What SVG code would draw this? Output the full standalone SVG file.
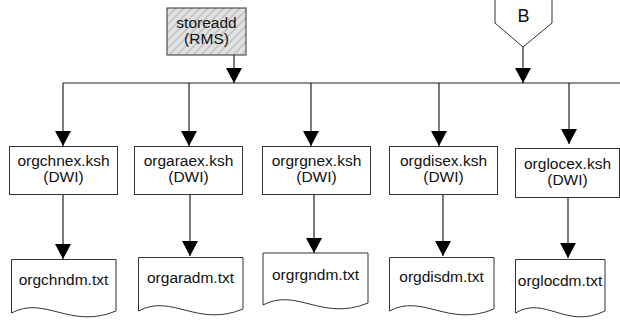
<svg xmlns="http://www.w3.org/2000/svg" width="620" height="320" viewBox="0 0 620 320">
<style>
.bx{fill:#fff;stroke:#333;stroke-width:1}
.ln{fill:none;stroke:#222;stroke-width:1.2}
.t{font-family:"Liberation Sans",Arial,sans-serif;font-size:15.5px;fill:#111;text-anchor:middle}
</style>
<defs>
<pattern id="hatch" width="8" height="8" patternUnits="userSpaceOnUse">
<rect width="8" height="8" fill="#e2e2e2"/>
<path d="M-2,2 L2,-2 M0,8 L8,0 M6,10 L10,6" stroke="#c4c4c4" stroke-width="1.6"/>
</pattern>
<marker id="ah" markerWidth="17" markerHeight="16" refX="15" refY="8" orient="auto" markerUnits="userSpaceOnUse">
<path d="M0,0 L15,8 L0,16 Z" fill="#000"/>
</marker>
</defs>
<g id="connectors">
<path class="ln" d="M63,83 H620"/>
<path class="ln" d="M234,55 V83" marker-end="url(#ah)"/>
<path class="ln" d="M523,47 V83" marker-end="url(#ah)"/>
<path class="ln" d="M63,83 V146" marker-end="url(#ah)"/>
<path class="ln" d="M189,83 V146" marker-end="url(#ah)"/>
<path class="ln" d="M311,83 V146" marker-end="url(#ah)"/>
<path class="ln" d="M439,83 V146" marker-end="url(#ah)"/>
<path class="ln" d="M569,83 V144" marker-end="url(#ah)"/>
<path class="ln" d="M63,195 V259" marker-end="url(#ah)"/>
<path class="ln" d="M190,195 V256" marker-end="url(#ah)"/>
<path class="ln" d="M314,195 V253" marker-end="url(#ah)"/>
<path class="ln" d="M443,195 V256" marker-end="url(#ah)"/>
<path class="ln" d="M568,197 V258" marker-end="url(#ah)"/>
</g>
<g id="storeadd">
<rect x="167" y="8" width="79" height="47" fill="url(#hatch)" stroke="#333"/>
<text class="t" x="206.5" y="28">storeadd</text>
<text class="t" x="206.5" y="44">(RMS)</text>
</g>
<g id="B">
<path class="bx" d="M495,-2 V23 L523,47 L552,23 V-2"/>
<text class="t" x="523.5" y="22" style="font-size:18px">B</text>
</g>
<g id="orgchnex">
<rect class="bx" x="9.5" y="146.5" width="108" height="48"/>
<text class="t" x="63.5" y="166">orgchnex.ksh</text>
<text class="t" x="63.5" y="182">(DWI)</text>
</g>
<g id="orgaraex">
<rect class="bx" x="134.5" y="146.5" width="108" height="48"/>
<text class="t" x="188.5" y="166">orgaraex.ksh</text>
<text class="t" x="188.5" y="182">(DWI)</text>
</g>
<g id="orgrgnex">
<rect class="bx" x="262.5" y="146.5" width="108" height="48"/>
<text class="t" x="316.5" y="166">orgrgnex.ksh</text>
<text class="t" x="316.5" y="182">(DWI)</text>
</g>
<g id="orgdisex">
<rect class="bx" x="389.5" y="146.5" width="108" height="48"/>
<text class="t" x="443.5" y="166">orgdisex.ksh</text>
<text class="t" x="443.5" y="182">(DWI)</text>
</g>
<g id="orglocex">
<rect class="bx" x="515.5" y="148.5" width="104" height="49"/>
<text class="t" x="567.5" y="169">orglocex.ksh</text>
<text class="t" x="567.5" y="185">(DWI)</text>
</g>
<g id="orgchndm">
<path class="bx" d="M11.5,259.5 H116 V311 C70,330 45,295 11.5,313 Z"/>
<text class="t" x="63.5" y="285">orgchndm.txt</text>
</g>
<g id="orgaradm">
<path class="bx" d="M138.5,257.5 H243 V309 C197,328 172,293 138.5,311 Z"/>
<text class="t" x="190.5" y="283">orgaradm.txt</text>
</g>
<g id="orgrgndm">
<path class="bx" d="M263,253 H368 V303 C322,322 297,287 263,305 Z"/>
<text class="t" x="315.5" y="280">orgrgndm.txt</text>
</g>
<g id="orgdisdm">
<path class="bx" d="M389.5,257.5 H494 V309 C448,328 423,293 389.5,311 Z"/>
<text class="t" x="441.5" y="282">orgdisdm.txt</text>
</g>
<g id="orglocdm">
<path class="bx" d="M515.5,259.5 H605 V311 C566,330 545,295 515.5,313 Z"/>
<text class="t" x="560" y="286">orglocdm.txt</text>
</g>
</svg>
